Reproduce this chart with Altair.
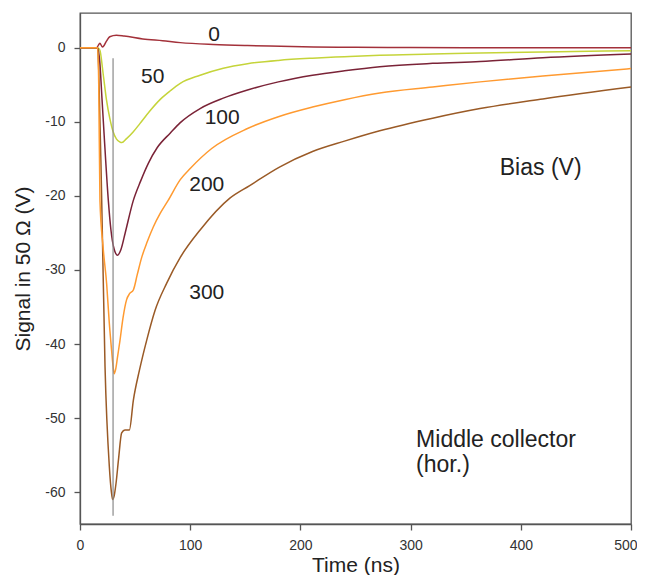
import altair as alt
import pandas as pd

# ---- data ----
t0 = [0, 15, 16.5, 18, 20.5, 24, 27, 33, 40, 57, 75, 91, 121, 152, 182, 212, 250, 300, 400, 500]
v0 = [0, 0, 0.3, 0.6, 0.1, 0.9, 1.5, 1.7, 1.6, 1.2, 0.95, 0.7, 0.45, 0.3, 0.2, 0.1, 0.06, 0.03, 0.02, 0.02]

t50 = [0, 16, 18, 21, 24, 27, 30, 33, 36, 38, 42, 48, 54.5, 63, 72.6, 82, 91, 109, 130, 152,
       180, 211, 240, 272, 320, 363, 420, 500]
v50 = [0, 0, -0.3, -3.5, -7, -9.5, -11.3, -12.3, -12.7, -12.8, -12.3, -11.4, -10.2, -8.6, -7.0,
       -5.8, -4.8, -3.7, -2.75, -2.15, -1.7, -1.4, -1.2, -1.0, -0.85, -0.7, -0.55, -0.4]

t100 = [0, 16, 18, 20, 22, 25.7, 28, 31, 34, 37, 41, 48.4, 55, 62, 70, 82, 91, 109, 130, 152,
        180, 211, 240, 272, 320, 363, 420, 500]
v100 = [0, 0, -2, -7, -12, -20.6, -24.5, -27.2, -28, -27.3, -25, -20.6, -18, -15.6, -13.5, -11.5,
        -10.1, -8.2, -6.8, -5.7, -4.6, -3.7, -3.1, -2.55, -2.1, -1.85, -1.35, -0.85]

t200 = [0, 16, 17, 18.1, 21, 24.2, 26.5, 28.7, 30, 31, 32.5, 34, 36.3, 39, 42.3, 45, 48.4, 52, 56,
        61, 66.5, 73, 80, 91, 100, 119.5, 152, 180, 211, 240, 272, 320, 363, 420, 500]
v200 = [0, 0, -5, -20.6, -27, -31.9, -37, -40.9, -43, -44, -43.3, -41.8, -39.5, -36.5, -34, -33.2,
        -32.7, -30.6, -28.3, -26.2, -24.2, -22.3, -20.6, -17.8, -16.3, -13.6, -10.9, -9.3, -8.0,
        -7.0, -6.1, -5.3, -4.6, -3.8, -2.8]

t300 = [0, 16, 17, 19.7, 22.7, 26.6, 28.5, 29.6, 31, 32.7, 35, 37.8, 40.8, 44.8, 48.4, 54, 60.5,
        68, 78.6, 91, 109, 136, 154, 181, 211, 240, 272, 320, 363, 420, 500]
v300 = [0, 0, -3, -20.6, -43, -56.5, -60, -61, -60.5, -58.8, -55.5, -52, -51.6, -51.6, -47.6, -43.5,
        -39.5, -35.5, -31.8, -28.3, -24.6, -20.3, -18.6, -16.1, -14, -12.6, -11.2, -9.5, -8.2, -6.9, -5.3]

series_names = ["0", "50", "100", "300", "200"]
series_t = [t0, t50, t100, t300, t200]
series_v = [v0, v50, v100, v300, v200]
series_colors = ["#A3313A", "#C5D43A", "#7A2337", "#9A5A26", "#FF9A30"]

marker_t = [30, 30]
marker_v = [-1.4, -63.2]

label_text = ["0", "50", "100", "200", "300"]
label_t = [121.6, 66, 129, 115, 115]
label_v = [1.7, -4.0, -9.5, -18.5, -33.1]

note_text = ["Bias (V)"]
note_t = [418]
note_v = [-16.2]

note2_text = ["Middle collector", "(hor.)"]
note2_t = [305, 305]
note2_v = [-52.9, -56.4]

# ---- build tables ----
rows = []
for i, (name, ts, vs) in enumerate(zip(series_names, series_t, series_v)):
    for t, v in zip(ts, vs):
        rows.append({"series": name, "t": t, "v": v, "ord": i})
df = pd.DataFrame(rows)

FONT = "Liberation Sans"
xscale = alt.Scale(domain=[0, 500], nice=False, zero=False)
yscale = alt.Scale(domain=[-64.3, 4.7], nice=False, zero=False)

lines = alt.Chart(df).mark_line(strokeWidth=1.5, interpolate="monotone").encode(
    x=alt.X("t:Q", scale=xscale, title="Time (ns)",
            axis=alt.Axis(values=[0, 100, 200, 300, 400, 500], grid=False, labelFlush=False,
                          labelAlign=alt.ExprRef(expr="datum.value == 500 ? 'right' : 'center'"),
                          labelOffset=alt.ExprRef(expr="datum.value == 500 ? 6 : 0"))),
    y=alt.Y("v:Q", scale=yscale, title="Signal in 50 Ω (V)",
            axis=alt.Axis(values=[-60, -50, -40, -30, -20, -10, 0], grid=False,
                          labelExpr="'' + datum.value")),
    color=alt.Color("series:N", scale=alt.Scale(domain=series_names, range=series_colors),
                    legend=None),
    detail="series:N",
    order=alt.Order("t:Q"),
)

mdf = pd.DataFrame({"t": marker_t[:1], "v": marker_v[:1], "v2": marker_v[1:]})
marker = alt.Chart(mdf).mark_rule(color="#8a8a8a", strokeWidth=1.2).encode(
    x=alt.X("t:Q", scale=xscale), y=alt.Y("v:Q", scale=yscale), y2="v2:Q")

ldf = pd.DataFrame({"txt": label_text, "t": label_t, "v": label_v})
labels = alt.Chart(ldf).mark_text(font=FONT, fontSize=21, color="#222", align="center",
                                  baseline="middle").encode(
    x=alt.X("t:Q", scale=xscale), y=alt.Y("v:Q", scale=yscale), text="txt:N")

ndf = pd.DataFrame({"txt": note_text, "t": note_t, "v": note_v})
notes = alt.Chart(ndf).mark_text(font=FONT, fontSize=23, color="#222", align="center",
                                 baseline="middle").encode(
    x=alt.X("t:Q", scale=xscale), y=alt.Y("v:Q", scale=yscale), text="txt:N")

n2df = pd.DataFrame({"txt": note2_text, "t": note2_t, "v": note2_v})
notes2 = alt.Chart(n2df).mark_text(font=FONT, fontSize=23, color="#222", align="left",
                                   baseline="middle").encode(
    x=alt.X("t:Q", scale=xscale), y=alt.Y("v:Q", scale=yscale), text="txt:N")

chart = alt.layer(lines, marker, labels, notes, notes2).properties(
    width=551, height=511,
    autosize=alt.AutoSizeParams(type="none"),
    padding={"left": 72, "top": 5, "right": 6, "bottom": 51},
).configure_view(
    stroke="#555", strokeWidth=1.3
).configure_axis(
    domainColor="#555", domainWidth=1.3, tickColor="#555", tickWidth=1.3, tickSize=6,
    labelFont=FONT, labelFontSize=14, labelColor="#333", labelPadding=8,
    titleFont=FONT, titleFontSize=21, titleFontWeight="normal", titleColor="#222",
).configure_axisY(
    labelPadding=9, titlePadding=11, titleFontSize=21
).configure_axisX(
    titlePadding=2
)

chart.save("out.html", embed_options={"renderer": "svg", "actions": False})
